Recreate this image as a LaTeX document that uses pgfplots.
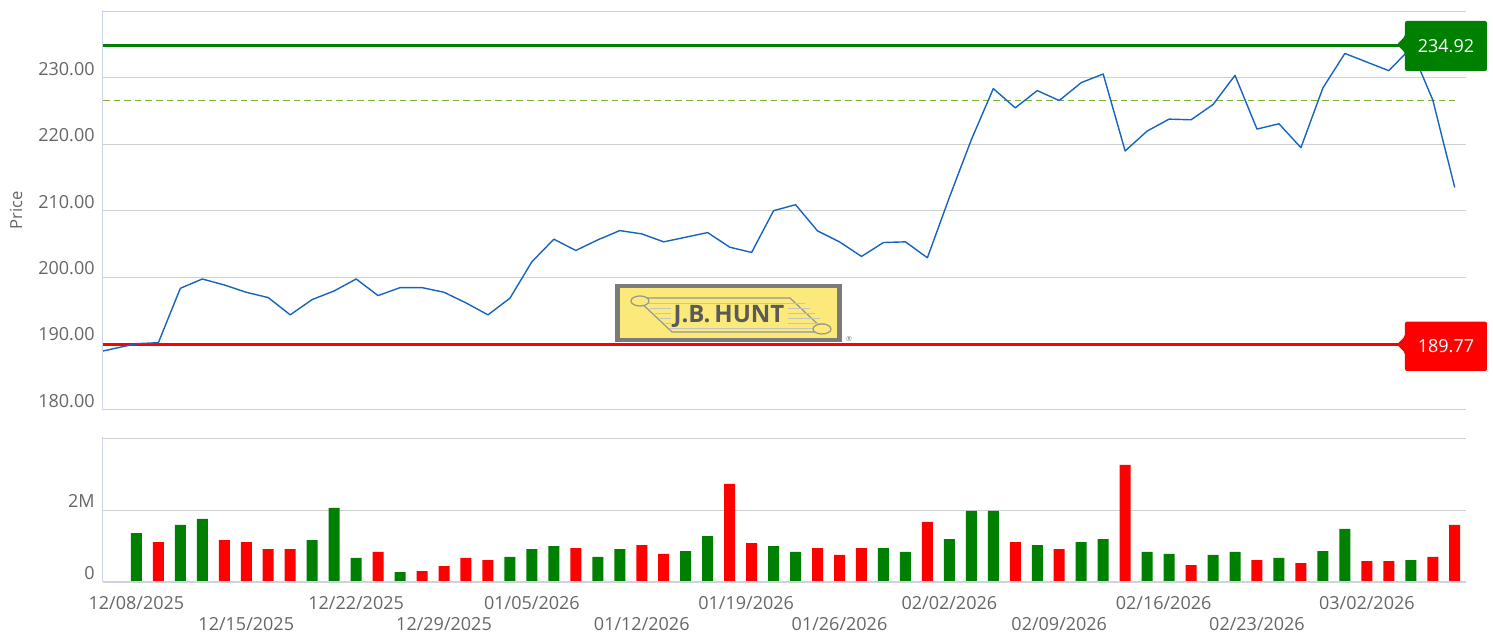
\documentclass[border=0pt]{standalone}
\usepackage{fontspec}
\setmainfont{Open Sans}
\usepackage{pgfplots}
\usepackage{pgfplotstable}
\pgfplotsset{compat=1.18}
\definecolor{pline}{HTML}{1565C0}
\definecolor{gridc}{HTML}{D0D0D0}
\definecolor{axisblue}{HTML}{CCD6EB}
\definecolor{tickgray}{HTML}{666666}
\definecolor{vgreen}{HTML}{008000}
\definecolor{vred}{HTML}{FF0000}
\definecolor{dashgreen}{HTML}{7FB135}
\definecolor{logoyellow}{HTML}{FBEA7A}
\definecolor{logogray}{HTML}{7A7A7A}
\definecolor{logotext}{HTML}{5A5A5A}

\pgfplotstableread{
x y
-1.52 188.85
0 189.95
1 190.1
2 198.3
3 199.7
4 198.8
5 197.7
6 196.9
7 194.3
8 196.6
9 197.9
10 199.7
11 197.2
12 198.4
13 198.4
14 197.7
15 196.1
16 194.3
17 196.8
18 202.3
19 205.7
20 204.0
21 205.6
22 207.0
23 206.5
24 205.3
25 206.0
26 206.7
27 204.5
28 203.7
29 210.0
30 210.9
31 206.95
32 205.3
33 203.1
34 205.2
35 205.3
36 202.9
37 212.0
38 220.7
39 228.4
40 225.5
41 228.1
42 226.6
43 229.3
44 230.6
45 219.0
46 222.0
47 223.8
48 223.7
49 226.0
50 230.4
51 222.3
52 223.1
53 219.5
54 228.5
55 233.7
56 232.4
57 231.1
58 234.5
59 226.7
60 213.5
}\price

\pgfplotstableread{
x v
0 1.364
2 1.589
3 1.757
8 1.168
9 2.065
10 0.664
12 0.271
17 0.692
18 0.916
19 1.000
21 0.692
22 0.916
25 0.860
26 1.280
29 1.000
30 0.832
34 0.944
35 0.832
37 1.196
38 1.981
39 1.981
41 1.028
43 1.112
44 1.196
46 0.832
47 0.776
49 0.748
50 0.832
52 0.664
54 0.860
55 1.477
58 0.607
}\volup

\pgfplotstableread{
x v
1 1.112
4 1.168
5 1.112
6 0.916
7 0.916
11 0.832
13 0.299
14 0.439
15 0.664
16 0.607
20 0.944
23 1.028
24 0.776
27 2.738
28 1.084
31 0.944
32 0.748
33 0.944
36 1.673
40 1.112
42 0.916
45 3.271
48 0.467
51 0.607
53 0.523
56 0.579
57 0.579
59 0.692
60 1.589
}\voldown

\begin{document}
\begin{tikzpicture}
\useasboundingbox (0,0) rectangle (746.5bp,317.5bp);
\pgfplotsset{
  common/.style={
    scale only axis, anchor=south west,
    width=681.35bp,
    xmin=-1.52, xmax=60.5,
    axis line style={draw=none},
    major tick length=0pt,
    ymajorgrids, grid style={gridc, line width=0.5bp},
    yticklabel style={anchor=base east, inner sep=0pt, xshift=-4bp, yshift=1.2bp,
      font=\fontsize{9bp}{11bp}\selectfont, text=tickgray},
  }
}
% price panel
\begin{axis}[common,
  at={(51.5bp,112.65bp)}, height=199.85bp,
  ymin=180, ymax=240.25,
  ytick={180,190,200,210,220,230,240},
  yticklabels={180.00,190.00,200.00,210.00,220.00,230.00,{}},
  xtick=\empty,
]
\addplot[dashgreen, line width=0.7bp, dash pattern=on 3.3bp off 2bp] coordinates {(-1.52,226.65) (60,226.65)};
\addplot[vgreen, line width=1.4bp] coordinates {(-1.52,234.92) (60.5,234.92)};
\addplot[vred, line width=1.5bp] coordinates {(-1.52,189.77) (60.5,189.77)};
\addplot[pline, line width=0.7bp, line join=round] table[x=x,y=y] {\price};
\end{axis}
% volume panel
\begin{axis}[common,
  at={(51.5bp,26.65bp)}, height=72.2bp,
  ymin=0, ymax=4.045,
  ytick={0,2,4}, yticklabels={0,2M,{}},
  scaled y ticks=false,
  xtick={0,5,10,14,18,23,27.75,32,37,42,46.75,51,56},
  xticklabels={12/08/2025,\raisebox{-10.5bp}{12/15/2025},12/22/2025,\raisebox{-10.5bp}{12/29/2025},01/05/2026,\raisebox{-10.5bp}{01/12/2026},01/19/2026,\raisebox{-10.5bp}{01/26/2026},02/02/2026,\raisebox{-10.5bp}{02/09/2026},02/16/2026,\raisebox{-10.5bp}{02/23/2026},03/02/2026},
  xticklabel style={anchor=base, yshift=-13.65bp, font=\fontsize{9bp}{11bp}\selectfont, text=tickgray},
]
\addplot[ybar, bar width=0.5, bar shift=0pt, fill=vgreen, draw=none] table[x=x,y=v] {\volup};
\addplot[ybar, bar width=0.5, bar shift=0pt, fill=vred, draw=none] table[x=x,y=v] {\voldown};
\end{axis}
% decorations in pixel coordinates (origin top-left)
\begin{scope}[x=0.5bp, y=-0.5bp, yshift=317.5bp]
  \draw[axisblue, line width=0.5bp] (103,10) -- (103,409.7);
  \draw[axisblue, line width=0.5bp] (103,437.3) -- (103,581.7);
  \draw[gridc!60!axisblue, line width=1.1bp] (103,581.7) -- (1465.7,581.7);
  \node[rotate=90, text=tickgray, font=\fontsize{8.3bp}{10bp}\selectfont] at (16,210) {Price};
  % price labels
  \fill[vgreen, rounded corners=1bp] (1397,44.5) -- (1405,36.5) -- (1405,21) -- (1487,21) -- (1487,71) -- (1405,71) -- (1405,52.5) -- cycle;
  \node[text=white, font=\fontsize{9bp}{11bp}\selectfont] at (1446,46) {234.92};
  \fill[vred, rounded corners=1bp] (1397,344.5) -- (1405,336.5) -- (1405,321.7) -- (1487,321.7) -- (1487,371) -- (1405,371) -- (1405,352.5) -- cycle;
  \node[text=white, font=\fontsize{9bp}{11bp}\selectfont] at (1446,346.5) {189.77};
  % logo
  \fill[logogray] (615,284) rectangle (841.7,341.7);
  \fill[logoyellow] (620,288.3) rectangle (836.7,338.3);
  \filldraw[fill=logoyellow, draw=logogray!80, line width=0.6bp] (636,298) -- (790,298) -- (826,332) -- (672,332) -- cycle;
  \foreach \yy in {303,308,313,318,323,328} {\draw[logogray!45, line width=0.4bp] (640+\yy-298,\yy) -- (800+\yy-298,\yy);}
  \filldraw[fill=logoyellow, draw=logogray!80, line width=0.6bp] (640,301) ellipse [x radius=9, y radius=5];
  \filldraw[fill=logoyellow, draw=logogray!80, line width=0.6bp] (822,329) ellipse [x radius=9, y radius=5];
  \fill[logoyellow] (671,304) rectangle (788,327);
  \node[text=logotext, font=\bfseries\fontsize{12bp}{14bp}\selectfont] at (729,316) {J.B.\,HUNT};
  \node[text=logogray, font=\fontsize{3.5bp}{4bp}\selectfont, inner sep=0pt] at (849,339) {\textregistered};
\end{scope}
\end{tikzpicture}
\end{document}
